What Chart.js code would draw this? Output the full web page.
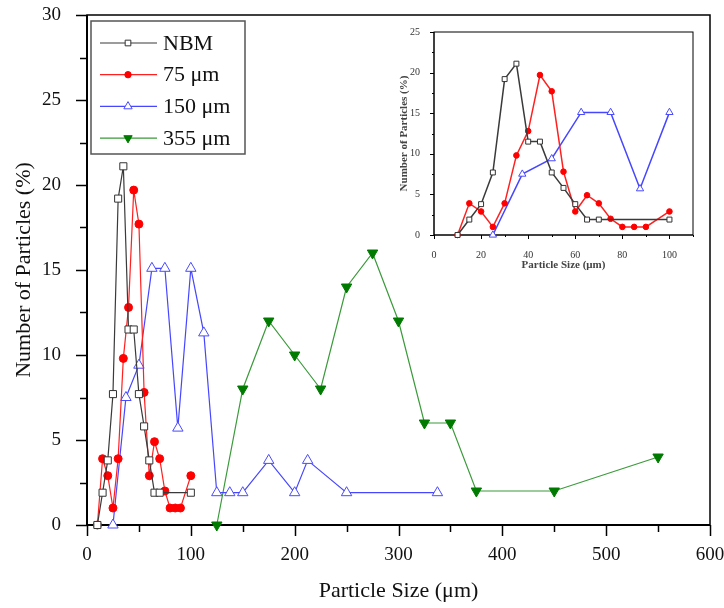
<!DOCTYPE html>
<html>
<head>
<meta charset="utf-8">
<script src="https://cdn.jsdelivr.net/npm/chart.js@4.4.1/dist/chart.umd.min.js"></script>
<style>
  html, body { margin: 0; padding: 0; background: #fff; }
  #wrap { position: relative; width: 724px; height: 608px; }
  #main { position: absolute; left: 0; top: 0; }
  #inset { position: absolute; left: 390px; top: 20px; }
</style>
</head>
<body>
<div id="wrap">
  <canvas id="main" width="724" height="608"></canvas>
  <canvas id="inset" width="320" height="262"></canvas>
</div>
<script>
// particle size (µm) and share of particles (%) for each powder
const nbmSize = [10, 15, 20, 25, 30, 35, 40, 45, 50, 55, 60, 65, 70, 100];
const nbmPct  = [0, 1.9, 3.8, 7.7, 19.2, 21.1, 11.5, 11.5, 7.7, 5.8, 3.8, 1.9, 1.9, 1.9];
const size75  = [10, 15, 20, 25, 30, 35, 40, 45, 50, 55, 60, 65, 70, 75, 80, 85, 90, 100];
const pct75   = [0, 3.9, 2.9, 1, 3.9, 9.8, 12.8, 19.7, 17.7, 7.8, 2.9, 4.9, 3.9, 2, 1, 1, 1, 2.9];
const size150 = [25, 37.5, 50, 62.5, 75, 87.5, 100, 112.5, 125, 137.5, 150, 175, 200, 212.5, 250, 337.5];
const pct150  = [0, 7.5, 9.4, 15.1, 15.1, 5.7, 15.1, 11.3, 1.9, 1.9, 1.9, 3.8, 1.9, 3.8, 1.9, 1.9];
const size355 = [125, 150, 175, 200, 225, 250, 275, 300, 325, 350, 375, 450, 550];
const pct355  = [0, 8, 12, 10, 8, 14, 16, 12, 6, 6, 2, 2, 4];

const seriesNames = ['NBM', '75 μm', '150 μm', '355 μm'];

// tick labels
const mainXTicks  = [0, 100, 200, 300, 400, 500, 600];
const mainYTicks  = [0, 5, 10, 15, 20, 25, 30];
const insetXTicks = [0, 20, 40, 60, 80, 100];
const insetYTicks = [0, 5, 10, 15, 20, 25];

const serif = 'Liberation Serif';

function pts(xs, ys, maxX) {
  return xs.map((x, i) => ({ x: x, y: ys[i] })).filter(p => p.x <= maxX);
}

function makeSets(maxX, small) {
  const k = small ? 0.7 : 1;
  const lw = small ? 1.5 : 1.2;
  const sets = [
    { label: seriesNames[0], data: pts(nbmSize, nbmPct, maxX), borderColor: '#3a3a3a',
      pointStyle: 'rect', pointRadius: 5 * k, pointBackgroundColor: '#fff', pointBorderColor: '#333' },
    { label: seriesNames[1], data: pts(size75, pct75, maxX), borderColor: '#ff2020',
      pointStyle: 'circle', pointRadius: 4 * k, pointBackgroundColor: '#ff0000', pointBorderColor: '#ff0000' },
    { label: seriesNames[2], data: pts(size150, pct150, maxX), borderColor: '#4646ff',
      pointStyle: 'triangle', pointRadius: 6 * k, pointBackgroundColor: '#fff', pointBorderColor: '#4a4aff' },
    { label: seriesNames[3], data: pts(size355, pct355, maxX), borderColor: '#3a9a3a',
      pointStyle: 'triangle', pointRotation: 180, pointRadius: 6 * k, pointBackgroundColor: '#007a00', pointBorderColor: '#007a00' }
  ];
  return sets.filter(s => s.data.length).map(s => Object.assign(s, {
    borderWidth: lw, pointBorderWidth: 1, tension: 0, clip: false
  }));
}

// axes with frame and outward major/minor ticks
const axisTicks = {
  id: 'axisTicks',
  beforeDatasetsDraw(chart, args, o) {
    const ctx = chart.ctx, a = chart.chartArea;
    const xs = chart.scales.x, ys = chart.scales.y;
    ctx.save();
    ctx.strokeStyle = '#000';
    ctx.lineWidth = o.frame;
    ctx.strokeRect(a.left, a.top, a.right - a.left, a.bottom - a.top);
    ctx.lineWidth = o.axis;
    ctx.beginPath();
    ctx.moveTo(a.left, a.top);
    ctx.lineTo(a.left, a.bottom);
    ctx.lineTo(a.right, a.bottom);
    ctx.stroke();
    ctx.lineWidth = o.tick;
    for (let v = xs.min; v <= xs.max + 1e-6; v += o.xMinor) {
      const px = Math.round(xs.getPixelForValue(v)) + 0.5;
      const len = Math.abs(v / o.xMajor - Math.round(v / o.xMajor)) < 1e-6 ? o.major : o.minor;
      ctx.beginPath(); ctx.moveTo(px, a.bottom); ctx.lineTo(px, a.bottom + len); ctx.stroke();
    }
    for (let v = ys.min; v <= ys.max + 1e-6; v += o.yMinor) {
      const py = Math.round(ys.getPixelForValue(v)) + 0.5;
      const len = Math.abs(v / o.yMajor - Math.round(v / o.yMajor)) < 1e-6 ? o.major : o.minor;
      ctx.beginPath(); ctx.moveTo(a.left, py); ctx.lineTo(a.left - len, py); ctx.stroke();
    }
    ctx.restore();
  }
};

// boxed legend with line + marker samples
const boxLegend = {
  id: 'boxLegend',
  afterDraw(chart, args, o) {
    if (!o.show) return;
    const ctx = chart.ctx, a = chart.chartArea;
    const x0 = a.left + o.dx, y0 = a.top + o.dy;
    ctx.save();
    ctx.strokeStyle = '#555';
    ctx.lineWidth = 1.5;
    ctx.strokeRect(x0, y0, o.w, o.h);
    chart.data.datasets.forEach((ds, i) => {
      const y = y0 + o.first + i * o.row;
      ctx.strokeStyle = ds.borderColor;
      ctx.lineWidth = 1.2;
      ctx.beginPath(); ctx.moveTo(x0 + 9, y); ctx.lineTo(x0 + 66, y); ctx.stroke();
      ctx.fillStyle = ds.pointBackgroundColor;
      ctx.strokeStyle = ds.pointBorderColor;
      ctx.lineWidth = 1;
      Chart.helpers.drawPoint(ctx, {
        pointStyle: ds.pointStyle, rotation: ds.pointRotation || 0,
        radius: ds.pointRadius * 0.8, borderWidth: 1
      }, x0 + 37, y);
      ctx.fillStyle = '#111';
      ctx.font = '22px "' + serif + '"';
      ctx.textBaseline = 'middle';
      ctx.fillText(ds.label, x0 + 72, y + 1);
    });
    ctx.restore();
  }
};

function fixTicks(list) {
  return s => { s.ticks = list.map(v => ({ value: v })); };
}

// fixed axis band size, no extra room for the end labels
function fixX(h) {
  return s => { s.height = h; s.paddingLeft = 0; s.paddingRight = 0; };
}
function fixY(w) {
  return s => { s.width = w; s.paddingTop = 0; s.paddingBottom = 0; };
}

// main chart
new Chart(document.getElementById('main'), {
  type: 'line',
  data: { datasets: makeSets(600, false) },
  plugins: [axisTicks, boxLegend],
  options: {
    responsive: false,
    animation: false,
    layout: { padding: { top: 15, right: 14, left: 0, bottom: 0 } },
    plugins: {
      legend: { display: false },
      tooltip: { enabled: false },
      axisTicks: { frame: 1.5, axis: 2, tick: 1.5, major: 11, minor: 7, xMajor: 100, xMinor: 50, yMajor: 5, yMinor: 2.5 },
      boxLegend: { show: true, dx: 4, dy: 6, w: 154, h: 133, first: 22, row: 31.7 }
    },
    scales: {
      x: {
        type: 'linear', min: 0, max: 600,
        afterBuildTicks: fixTicks(mainXTicks),
        afterFit: fixX(83),
        grid: { display: false }, border: { display: false },
        ticks: { font: { family: serif, size: 19 }, color: '#111', padding: 11, maxRotation: 0 },
        title: { display: true, text: 'Particle Size (μm)', font: { family: serif, size: 22 }, color: '#111', padding: { top: 0, bottom: 4 } }
      },
      y: {
        type: 'linear', min: 0, max: 30,
        afterBuildTicks: fixTicks(mainYTicks),
        afterFit: fixY(87),
        grid: { display: false }, border: { display: false },
        ticks: { font: { family: serif, size: 19 }, color: '#111', padding: 18 },
        title: { display: true, text: 'Number of Particles (%)', font: { family: serif, size: 22 }, color: '#111', padding: { top: 11, bottom: 0 } }
      }
    }
  }
});

// inset: close-up of the fine fractions
new Chart(document.getElementById('inset'), {
  type: 'line',
  data: { datasets: makeSets(100, true).slice(0, 3) },
  plugins: [axisTicks],
  options: {
    responsive: false,
    animation: false,
    layout: { padding: { top: 12, right: 17, left: 0, bottom: 0 } },
    plugins: {
      legend: { display: false },
      tooltip: { enabled: false },
      axisTicks: { frame: 1, axis: 1, tick: 1, major: 4, minor: 2, xMajor: 20, xMinor: 10, yMajor: 5, yMinor: 2.5 }
    },
    scales: {
      x: {
        type: 'linear', min: 0, max: 110,
        afterBuildTicks: fixTicks(insetXTicks),
        afterFit: fixX(47),
        grid: { display: false }, border: { display: false },
        ticks: { font: { family: serif, size: 10 }, color: '#333', padding: 6, maxRotation: 0 },
        title: { display: true, text: 'Particle Size (μm)', font: { family: serif, size: 11, weight: 'bold' }, color: '#444', padding: { top: 0, bottom: 10 } }
      },
      y: {
        type: 'linear', min: 0, max: 25,
        afterBuildTicks: fixTicks(insetYTicks),
        afterFit: fixY(44),
        grid: { display: false }, border: { display: false },
        ticks: { font: { family: serif, size: 10 }, color: '#333', padding: 6 },
        title: { display: true, text: 'Number of Particles (%)', font: { family: serif, size: 11, weight: 'bold' }, color: '#444', padding: { top: 8, bottom: 0 } }
      }
    }
  }
});
</script>
</body>
</html>
